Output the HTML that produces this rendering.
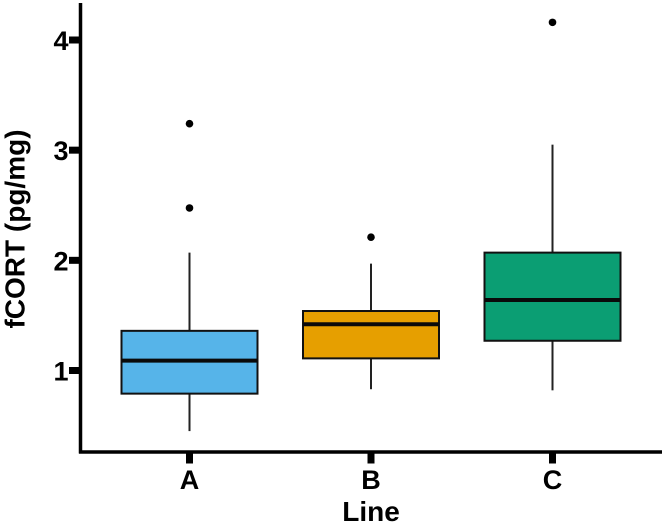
<!DOCTYPE html>
<html>
<head>
<meta charset="utf-8">
<style>
html,body{margin:0;padding:0;background:#fff;}
svg{display:block;}
text{font-family:"Liberation Sans",Arial,sans-serif;font-weight:bold;fill:#000;}
</style>
</head>
<body>
<svg id="chart" width="664" height="524" viewBox="0 0 664 524" xmlns="http://www.w3.org/2000/svg"></svg>
<script>
const categories = ['A', 'B', 'C'];
const whiskerLow = [0.45, 0.83, 0.82];
const quartile1 = [0.79, 1.11, 1.27];
const medians = [1.09, 1.42, 1.64];
const quartile3 = [1.36, 1.54, 2.07];
const whiskerHigh = [2.07, 1.97, 3.05];
const outliers = [[2.475, 3.24], [2.21], [4.16]];
const colors = ['#56B4E9', '#E69F00', '#0B9E73'];
const yTicks = [1, 2, 3, 4];

const NS = 'http://www.w3.org/2000/svg';
const svg = document.getElementById('chart');
function y(v) { return 370.5 - (v - 1) * 110.17; }
function x(i) { return 189.5 + i * 181.5; }
function make(tag, attrs, text) {
  const el = document.createElementNS(NS, tag);
  for (const k in attrs) el.setAttribute(k, attrs[k]);
  if (text !== undefined) el.textContent = text;
  svg.appendChild(el);
  return el;
}
const halfW = 68;

categories.forEach(function (c, i) {
  const cx = x(i);
  const w1 = make('line', {x1: cx, x2: cx, y1: y(whiskerHigh[i]), y2: y(quartile3[i]), stroke: '#222', 'stroke-width': 2});
  
  
  const w2 = make('line', {x1: cx, x2: cx, y1: y(quartile1[i]), y2: y(whiskerLow[i]), stroke: '#222', 'stroke-width': 2});
  
  
  const box = make('rect', {x: cx - halfW, width: halfW * 2, y: y(quartile3[i]), height: y(quartile1[i]) - y(quartile3[i]), fill: colors[i], stroke: '#111', 'stroke-width': 2});
  
  
  const med = make('line', {x1: cx - halfW, x2: cx + halfW, y1: y(medians[i]), y2: y(medians[i]), stroke: '#0a0a0a', 'stroke-width': 4});
  
  
  outliers[i].forEach(function (v, j) {
    const p = make('circle', {cx: cx, cy: y(v), r: 3.8, fill: '#000'});
    
    
  });
  const tick = make('line', {x1: cx, x2: cx, y1: 452, y2: 463.5, stroke: '#000', 'stroke-width': 7});
  
  
  const lab = make('text', {x: cx, y: 489, 'text-anchor': 'middle', 'font-size': 27}, c);
  
  
});

yTicks.forEach(function (t) {
  const tick = make('line', {x1: 69, x2: 80, y1: y(t), y2: y(t), stroke: '#000', 'stroke-width': 7});
  
  
  const lab = make('text', {x: 68.5, y: y(t) + 10, 'text-anchor': 'end', 'font-size': 27}, String(t));
  
  
});

const yAxis = make('line', {x1: 80.5, x2: 80.5, y1: 3, y2: 453.5, stroke: '#000', 'stroke-width': 3.5});


const xAxis = make('line', {x1: 79, x2: 662, y1: 452, y2: 452, stroke: '#000', 'stroke-width': 3.5});



const xTitle = make('text', {x: 371, y: 521, 'text-anchor': 'middle', 'font-size': 28}, 'Line');


const yTitle = make('text', {x: 0, y: 0, 'text-anchor': 'middle', 'font-size': 28, transform: 'translate(24.5 229) rotate(-90)'}, 'fCORT (pg/mg)');


</script>
</body>
</html>
